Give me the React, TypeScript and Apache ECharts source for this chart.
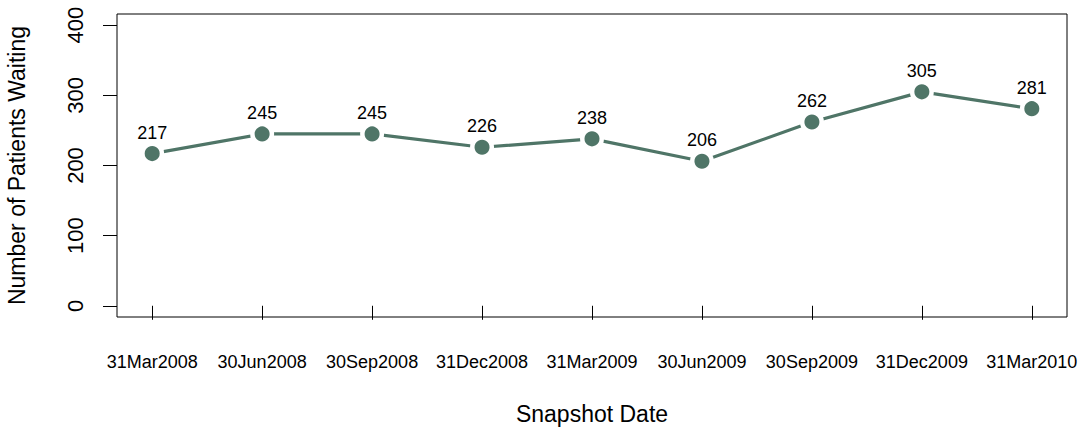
import React, { useEffect, useRef } from "react";
import * as echarts from "echarts";

const dateLabels = [
  "31Mar2008", "30Jun2008", "30Sep2008", "31Dec2008", "31Mar2009",
  "30Jun2009", "30Sep2009", "31Dec2009", "31Mar2010",
];
const patientsWaiting = [217, 245, 245, 226, 238, 206, 262, 305, 281];
const yTicks = [0, 100, 200, 300, 400];

const FONT = "Liberation Sans, Arial, Helvetica, sans-serif";
const LINE_COLOR = "#4F7567";

export default function App() {
  const ref = useRef<HTMLDivElement>(null);
  useEffect(() => {
    if (!ref.current) return;
    const chart = echarts.init(ref.current, undefined, { renderer: "svg" });
    const xPositions = dateLabels.map((_, i) => i + 1);
    chart.setOption({
      animation: false,
      backgroundColor: "#ffffff",
      textStyle: { fontFamily: FONT },
      grid: {
        left: 117,
        right: 13,
        top: 14,
        bottom: 113,
        containLabel: false,
        outerBoundsMode: "none",
        show: true,
        borderColor: "#000000",
        borderWidth: 1,
        backgroundColor: "transparent",
      },
      xAxis: {
        type: "value",
        min: 0.68,
        max: 9.32,
        name: "Snapshot Date",
        nameLocation: "middle",
        nameGap: 85,
        nameTextStyle: { fontSize: 23, color: "#000", fontFamily: FONT },
        axisLine: { show: false },
        splitLine: { show: false },
        axisTick: {
          show: true,
          customValues: xPositions,
          length: 14,
          lineStyle: { color: "#000", width: 1 },
        },
        axisLabel: {
          customValues: xPositions,
          formatter: (v: number) => dateLabels[Math.round(v) - 1] ?? "",
          margin: 36,
          fontSize: 18,
          hideOverlap: false,
          color: "#000",
          fontFamily: FONT,
        },
      },
      yAxis: {
        type: "value",
        min: -16,
        max: 416,
        name: "Number of Patients Waiting",
        nameLocation: "middle",
        nameGap: 89,
        nameRotate: 90,
        nameTextStyle: { fontSize: 23, color: "#000", fontFamily: FONT },
        axisLine: { show: false },
        splitLine: { show: false },
        axisTick: {
          show: true,
          customValues: yTicks,
          length: 14,
          lineStyle: { color: "#000", width: 1 },
        },
        axisLabel: {
          customValues: yTicks,
          rotate: 90,
          margin: 31,
          fontSize: 22,
          color: "#000",
          fontFamily: FONT,
        },
      },
      series: [
        {
          type: "line",
          data: patientsWaiting.map((v, i) => [xPositions[i], v]),
          symbol: "circle",
          symbolSize: 19.5,
          lineStyle: { color: LINE_COLOR, width: 3.2 },
          itemStyle: { color: LINE_COLOR, borderColor: "#ffffff", borderWidth: 4.5 },
          label: {
            show: true,
            position: "top",
            distance: 0,
            fontSize: 18,
            color: "#000",
            fontFamily: FONT,
            formatter: (p: any) => String(p.value[1]),
          },
          z: 3,
        },
      ],
    });
    return () => chart.dispose();
  }, []);
  return <div ref={ref} style={{ width: 1080, height: 430, position: "absolute", left: 0, top: 0 }} />;
}
